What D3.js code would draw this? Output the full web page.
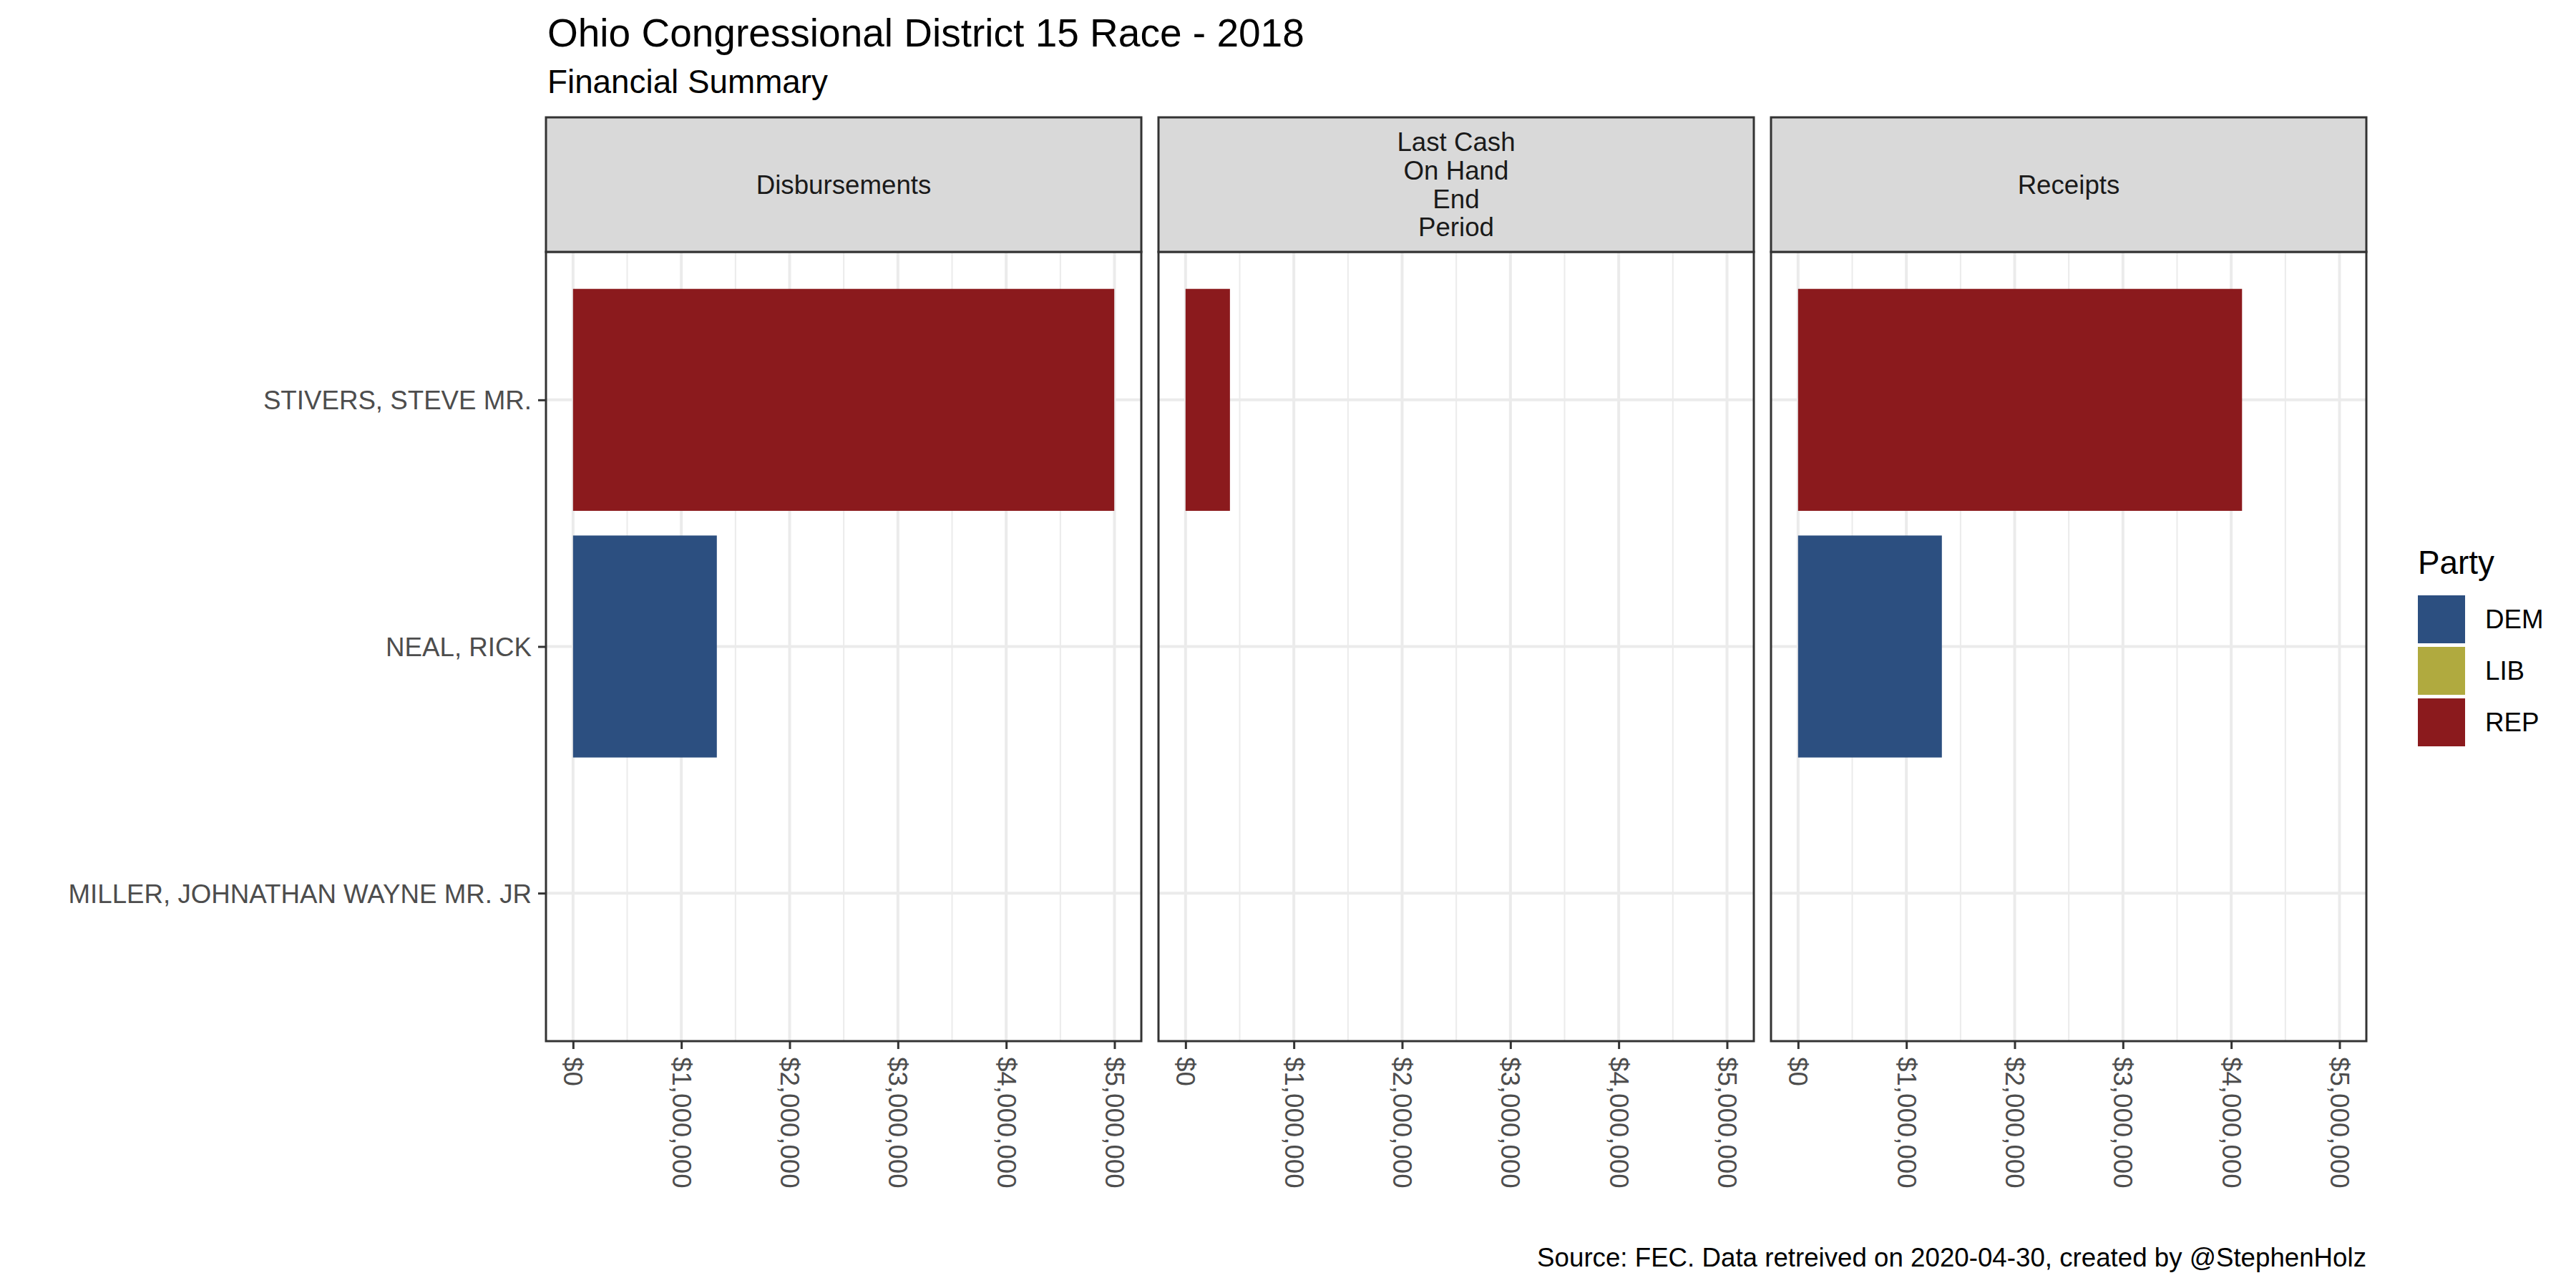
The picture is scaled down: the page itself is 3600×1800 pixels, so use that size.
<!DOCTYPE html>
<html>
<head>
<meta charset="utf-8">
<script src="https://cdn.jsdelivr.net/npm/d3@7"></script>
<style>
  html, body { margin: 0; padding: 0; background: #fff; }
  svg { display: block; }
  text { font-family: "Liberation Sans", Arial, Helvetica, sans-serif; }
</style>
</head>
<body>
<script>
// ---------------- data ----------------
const candidates = ["STIVERS, STEVE MR.", "NEAL, RICK", "MILLER, JOHNATHAN WAYNE MR. JR"];
const candidateParty = ["REP", "DEM", "LIB"];
const facetNames = ["Disbursements", "Last Cash On Hand End Period", "Receipts"];
const facetLabels = [["Disbursements"], ["Last Cash", "On Hand", "End", "Period"], ["Receipts"]];
const disbursements = [4998000, 1328000, 0];
const cashOnHand = [410000, 0, 0];
const receipts = [4100000, 1328000, 0];
const parties = ["DEM", "LIB", "REP"];
const partyColors = ["#2C4F80", "#B0AA3F", "#8B1A1D"];
const xTicks = [0, 1000000, 2000000, 3000000, 4000000, 5000000];
const xMinorTicks = [500000, 1500000, 2500000, 3500000, 4500000];

const titleText = "Ohio Congressional District 15 Race - 2018";
const subtitleText = "Financial Summary";
const captionText = "Source: FEC. Data retreived on 2020-04-30, created by @StephenHolz";
const legendTitle = "Party";

// ---------------- layout ----------------
const W = 3600, H = 1800;
const panelLefts = [763, 1619, 2475];
const panelWidth = 832;
const stripTop = 164, stripBottom = 352, panelBottom = 1455;
const axisColor = "#333333", textGrey = "#4D4D4D";
const fs = 36.7;

const seriesByFacet = [disbursements, cashOnHand, receipts];
const maxVal = d3.max(seriesByFacet.flat());

const color = d3.scaleOrdinal().domain(parties).range(partyColors);
const dollar = v => "$" + d3.format(",")(v);

const svg = d3.select("body").append("svg").attr("width", W).attr("height", H);
svg.append("rect").attr("width", W).attr("height", H).attr("fill", "#fff");

// titles
svg.append("text").attr("x", 765).attr("y", 65).attr("font-size", 55).attr("fill", "#000").text(titleText);
svg.append("text").attr("x", 765).attr("y", 130).attr("font-size", 45.8).attr("fill", "#000").text(subtitleText);

const y = d3.scalePoint().domain(candidates).range([stripBottom, panelBottom]).padding(0.6);
const barH = y.step() * 0.9;

facetNames.forEach((name, fi) => {
  const left = panelLefts[fi], right = left + panelWidth;
  const x = d3.scaleLinear().domain([-0.05 * maxVal, 1.05 * maxVal]).range([left, right]);
  const g = svg.append("g");

  // panel background
  g.append("rect").attr("x", left).attr("y", stripBottom).attr("width", panelWidth)
    .attr("height", panelBottom - stripBottom).attr("fill", "#fff");

  // minor gridlines
  g.selectAll(".minor").data(xMinorTicks).enter().append("line")
    .attr("x1", d => x(d)).attr("x2", d => x(d))
    .attr("y1", stripBottom).attr("y2", panelBottom)
    .attr("stroke", "#EBEBEB").attr("stroke-width", 2);
  // major gridlines
  g.selectAll(".majorx").data(xTicks).enter().append("line")
    .attr("x1", d => x(d)).attr("x2", d => x(d))
    .attr("y1", stripBottom).attr("y2", panelBottom)
    .attr("stroke", "#EBEBEB").attr("stroke-width", 4);
  g.selectAll(".majory").data(candidates).enter().append("line")
    .attr("x1", left).attr("x2", right)
    .attr("y1", d => y(d)).attr("y2", d => y(d))
    .attr("stroke", "#EBEBEB").attr("stroke-width", 4);

  // bars
  const vals = seriesByFacet[fi];
  g.selectAll(".bar").data(candidates.map((c, i) => ({c, v: vals[i], p: candidateParty[i]})))
    .enter().append("rect")
    .attr("x", d => x(0))
    .attr("width", d => Math.max(0, x(d.v) - x(0)))
    .attr("y", d => y(d.c) - barH / 2)
    .attr("height", barH)
    .attr("fill", d => color(d.p));

  // panel border
  g.append("rect").attr("x", left).attr("y", stripBottom).attr("width", panelWidth)
    .attr("height", panelBottom - stripBottom).attr("fill", "none")
    .attr("stroke", axisColor).attr("stroke-width", 3);

  // strip
  g.append("rect").attr("x", left).attr("y", stripTop).attr("width", panelWidth)
    .attr("height", stripBottom - stripTop).attr("fill", "#D9D9D9")
    .attr("stroke", axisColor).attr("stroke-width", 3);
  const lines = facetLabels[fi];
  const lh = 39.6;
  const cy = (stripTop + stripBottom) / 2;
  lines.forEach((ln, li) => {
    g.append("text").attr("x", (left + right) / 2)
      .attr("y", cy + (li - (lines.length - 1) / 2) * lh)
      .attr("dy", "0.35em")
      .attr("text-anchor", "middle").attr("font-size", fs).attr("fill", "#1A1A1A").text(ln);
  });

  // x axis
  const xa = svg.append("g").attr("transform", `translate(0,${panelBottom})`)
    .call(d3.axisBottom(x).tickValues(xTicks).tickFormat(dollar).tickSize(11).tickPadding(0));
  xa.select(".domain").remove();
  xa.selectAll(".tick line").attr("stroke", axisColor).attr("stroke-width", 3);
  xa.selectAll(".tick text")
    .attr("transform", "rotate(90)")
    .attr("x", 22).attr("y", 0).attr("dy", "0.35em")
    .style("text-anchor", "start")
    .attr("font-size", fs).attr("fill", textGrey)
    .attr("font-family", '"Liberation Sans", Arial, sans-serif');

  // y axis (only first panel)
  if (fi === 0) {
    const ya = svg.append("g").attr("transform", `translate(${left},0)`)
      .call(d3.axisLeft(y).tickSize(11).tickPadding(9));
    ya.select(".domain").remove();
    ya.selectAll(".tick line").attr("stroke", axisColor).attr("stroke-width", 3);
    ya.selectAll(".tick text").attr("font-size", fs).attr("fill", textGrey)
      .attr("dy", "0.35em")
      .attr("font-family", '"Liberation Sans", Arial, sans-serif');
  }
});

// legend
const lx = 3379;
svg.append("text").attr("x", lx).attr("y", 802).attr("font-size", 45.8).attr("fill", "#000").text(legendTitle);
parties.forEach((p, i) => {
  const ky = 832 + i * 72;
  svg.append("rect").attr("x", lx).attr("y", ky).attr("width", 66).attr("height", 67).attr("fill", color(p));
  svg.append("text").attr("x", 3473).attr("y", ky + 33.5).attr("dy", "0.35em")
    .attr("font-size", fs).attr("fill", "#000").text(p);
});

// caption
svg.append("text").attr("x", 3307).attr("y", 1770).attr("text-anchor", "end")
  .attr("font-size", fs).attr("fill", "#000").text(captionText);
</script>
</body>
</html>
